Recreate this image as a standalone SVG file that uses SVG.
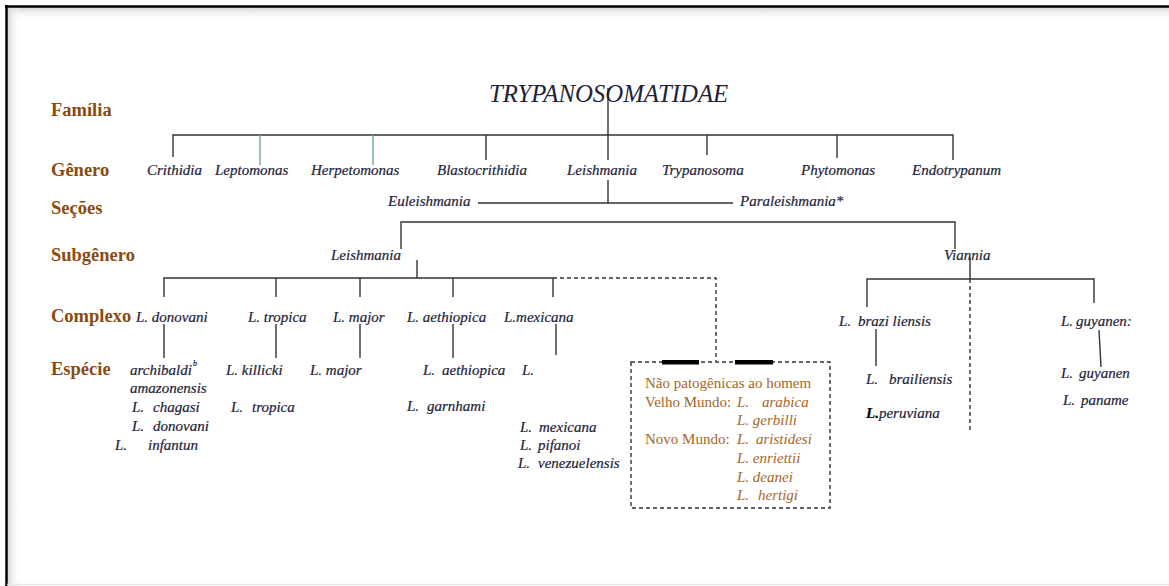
<svg xmlns="http://www.w3.org/2000/svg" width="1169" height="586" viewBox="0 0 1169 586">
<defs>
<linearGradient id="shT" x1="0" y1="0" x2="0" y2="1"><stop offset="0" stop-color="#d4d4d4"/><stop offset="1" stop-color="#ffffff" stop-opacity="0"/></linearGradient>
<linearGradient id="shL" x1="0" y1="0" x2="1" y2="0"><stop offset="0" stop-color="#d4d4d4"/><stop offset="1" stop-color="#ffffff" stop-opacity="0"/></linearGradient>
<style>
.lab{font-family:"Liberation Serif","Times New Roman",serif;font-weight:bold;font-size:18.5px;fill:#8a4b10}
.tx{font-family:"Liberation Serif","Times New Roman",serif;font-style:italic;font-size:15px;fill:#1e2238;stroke:#1e2238;stroke-width:0.2}
.title{font-family:"Liberation Serif","Times New Roman",serif;font-style:italic;font-size:24.8px;fill:#1e2238}
.bx{font-family:"Liberation Serif","Times New Roman",serif;font-size:15px;fill:#a5661f}
.bxi{font-family:"Liberation Serif","Times New Roman",serif;font-style:italic;font-size:15px;fill:#a5661f}
.ln{stroke:#333;stroke-width:1.4;fill:none}
.gr{stroke:#6fae7f;stroke-width:1.4;fill:none}
.ds{stroke:#333;stroke-width:1.4;fill:none;stroke-dasharray:4 3}
</style>
</defs>
<rect width="1169" height="586" fill="#fff"/>
<rect x="7" y="7" width="1162" height="14" fill="url(#shT)"/>
<rect x="7" y="7" width="14" height="579" fill="url(#shL)"/>
<line x1="5" y1="6.5" x2="1169" y2="6.5" stroke="#000" stroke-width="2.5"/>
<line x1="6.5" y1="5" x2="6.5" y2="586" stroke="#000" stroke-width="2.5"/>
<line x1="7" y1="584.5" x2="1169" y2="584.5" stroke="#e6e6e6" stroke-width="1.5"/>

<g id="labels">
<text class="lab" x="51" y="116">Família</text>
<text class="lab" x="51" y="176">Gênero</text>
<text class="lab" x="51" y="214">Seções</text>
<text class="lab" x="51" y="261">Subgênero</text>
<text class="lab" x="51" y="322">Complexo</text>
<text class="lab" x="51" y="375">Espécie</text>
</g>

<g id="connectors">
<path class="ln" d="M608 88V160M173 157V135H953V160M486 135V160M707 135V155M837 135V158"/>
<path class="gr" d="M260 135V165M373 135V165"/>
<path class="ln" d="M608 180V203M478 203H733"/>
<path class="ln" d="M401 249V222H955V249"/>
<path class="ln" d="M417 260V278M164 297V278H553M276 278V297M360 278V297M453 278V297M553 278V297"/>
<path class="ds" d="M553 278H716V361"/>
<path class="ln" d="M164 324V358M276 324V358M360 324V358M453 324V358M556 324V355"/>
<path class="ln" d="M970 257V279M867 307V279H1094V303M876 329V366M1099 330L1101 367"/>
<path class="ds" d="M970 279V430"/>
</g>

<g id="title"><text class="title" x="489" y="102">TRYPANOSOMATIDAE</text></g>

<g id="genera">
<text class="tx" x="147" y="175">Crithidia</text>
<text class="tx" x="215" y="175">Leptomonas</text>
<text class="tx" x="311" y="175">Herpetomonas</text>
<text class="tx" x="437" y="175">Blastocrithidia</text>
<text class="tx" x="567" y="175">Leishmania</text>
<text class="tx" x="662" y="175">Trypanosoma</text>
<text class="tx" x="801" y="175">Phytomonas</text>
<text class="tx" x="912" y="175">Endotrypanum</text>
</g>

<g id="sections">
<text class="tx" x="388" y="206">Euleishmania</text>
<text class="tx" x="740" y="206">Paraleishmania*</text>
</g>

<g id="subgenera">
<text class="tx" x="331" y="260">Leishmania</text>
<text class="tx" x="944" y="260">Viannia</text>
</g>

<g id="complexes">
<text class="tx" x="136" y="322">L. donovani</text>
<text class="tx" x="248" y="322">L. tropica</text>
<text class="tx" x="333" y="322">L. major</text>
<text class="tx" x="407" y="322">L. aethiopica</text>
<text class="tx" x="504" y="322">L.mexicana</text>
<text class="tx" x="839" y="326">L.<tspan x="858">brazi liensis</tspan></text>
<text class="tx" x="1061" y="326">L.<tspan x="1076">guyanen:</tspan></text>
</g>

<g id="species-donovani">
<text class="tx" x="130" y="375">archibaldi<tspan dx="1" dy="-9" font-size="8">b</tspan></text>
<text class="tx" x="130" y="393">amazonensis</text>
<text class="tx" x="132" y="412">L.<tspan x="153">chagasi</tspan></text>
<text class="tx" x="132" y="431">L.<tspan x="153">donovani</tspan></text>
<text class="tx" x="115" y="450">L.<tspan x="148">infantun</tspan></text>
</g>
<g id="species-tropica">
<text class="tx" x="226" y="375">L. killicki</text>
<text class="tx" x="231" y="412">L.<tspan x="252">tropica</tspan></text>
</g>
<g id="species-major"><text class="tx" x="310" y="375">L. major</text></g>
<g id="species-aethiopica">
<text class="tx" x="423" y="375">L.<tspan x="442">aethiopica</tspan></text>
<text class="tx" x="407" y="411">L.<tspan x="427">garnhami</tspan></text>
</g>
<g id="species-mexicana">
<text class="tx" x="522" y="375">L.</text>
<text class="tx" x="520" y="432">L.<tspan x="539">mexicana</tspan></text>
<text class="tx" x="520" y="450">L.<tspan x="538">pifanoi</tspan></text>
<text class="tx" x="518" y="468">L.<tspan x="538">venezuelensis</tspan></text>
</g>

<g id="nonpathogenic">
<rect class="ds" x="631" y="362" width="199" height="146"/>
<rect x="662" y="360" width="37" height="4.5" fill="#000"/>
<rect x="735" y="360" width="38" height="4.5" fill="#000"/>
<text class="bx" x="645" y="388">Não patogênicas ao homem</text>
<text class="bx" x="645" y="407">Velho Mundo:</text>
<text class="bxi" x="737" y="407">L.<tspan x="762">arabica</tspan></text>
<text class="bxi" x="737" y="425">L. gerbilli</text>
<text class="bx" x="645" y="444">Novo Mundo:</text>
<text class="bxi" x="737" y="444">L.<tspan x="756">aristidesi</tspan></text>
<text class="bxi" x="737" y="463">L. enriettii</text>
<text class="bxi" x="737" y="482">L. deanei</text>
<text class="bxi" x="737" y="500">L.<tspan x="758">hertigi</tspan></text>
</g>

<g id="species-viannia">
<text class="tx" x="866" y="384">L.<tspan x="889">brailiensis</tspan></text>
<text class="tx" x="866" y="418"><tspan font-weight="bold" fill="#000" stroke="#000">L.</tspan>peruviana</text>
<text class="tx" x="1061" y="378">L.<tspan x="1079">guyanen</tspan></text>
<text class="tx" x="1063" y="405">L.<tspan x="1081">paname</tspan></text>
</g>
</svg>
